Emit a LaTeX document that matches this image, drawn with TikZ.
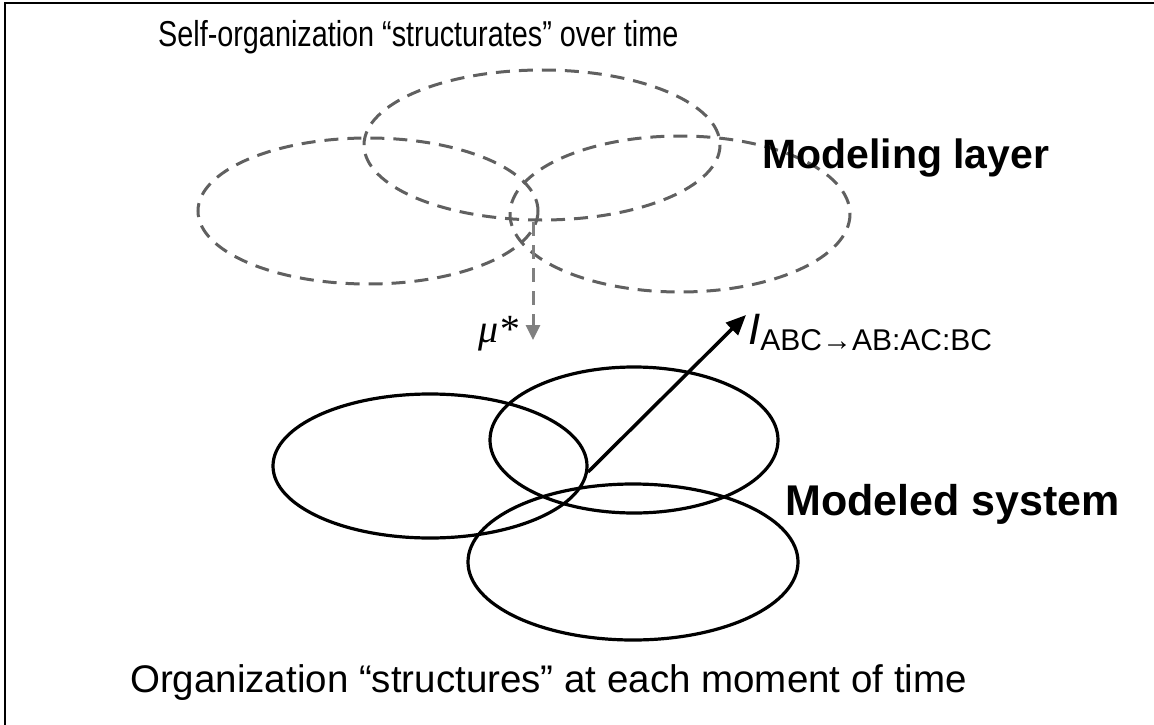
\documentclass[tikz,border=0pt]{standalone}
\usepackage{fontspec}
\setmainfont{Liberation Sans}
\newfontfamily\serifit{Liberation Serif}
\usetikzlibrary{arrows.meta}
\definecolor{dgray}{HTML}{606060}
\definecolor{agray}{HTML}{808080}
\begin{document}
\begin{tikzpicture}[x=1pt,y=-1pt,
  dashell/.style={draw=dgray,line width=3pt,dash pattern=on 14pt off 9pt},
  solell/.style={draw=black,line width=3.2pt},
  lbl/.style={inner sep=0pt,anchor=base west}]
\useasboundingbox (0,0) rectangle (1154,725);
\draw[line width=2pt] (5,740) -- (5,3) -- (1170,3);
% modeling layer
\draw[dashell] (368,211) ellipse [x radius=170,y radius=73];
\draw[dashell] (542,145) ellipse [x radius=178,y radius=75];
\draw[dashell] (680,214) ellipse [x radius=170,y radius=78];
\coordinate (mtop) at (533,222);
\coordinate (mbot) at (533,340);
\draw[agray,line width=3pt,dash pattern=on 14pt off 9pt,-{Triangle[length=15pt,width=14pt]}] (mtop) -- (mbot);
\node[lbl,font=\fontsize{40}{40}\selectfont\serifit\itshape] (mu) at (478,342) {μ*};
% modeled system
\draw[solell] (430,466) ellipse [x radius=157,y radius=72];
\draw[solell] (634,440) ellipse [x radius=144,y radius=73];
\draw[solell] (633,562) ellipse [x radius=165,y radius=78];
\coordinate (astart) at (588,472);
\coordinate (aend) at (746,315);
\draw[line width=3.5pt,-{Triangle[length=20pt,width=17pt]}] (astart) -- (aend);
\node[lbl] (ilbl) at (748,344) {\fontsize{44}{44}\selectfont\itshape I\fontsize{30}{30}\selectfont\raisebox{-6pt}{\upshape ABC→AB:AC:BC}};
% texts
\node[lbl,font=\fontsize{36}{36}\selectfont,xscale=0.8] (top) at (158,47) {Self-organization “structurates” over time};
\node[lbl,font=\fontsize{41}{41}\selectfont\bfseries] (ml) at (762,168) {Modeling layer};
\node[lbl,font=\fontsize{43}{43}\selectfont\bfseries] (ms) at (785,515) {Modeled system};
\node[lbl,font=\fontsize{38.5}{38.5}\selectfont] (bot) at (130,692) {Organization “structures” at each moment of time};
\end{tikzpicture}
\end{document}
